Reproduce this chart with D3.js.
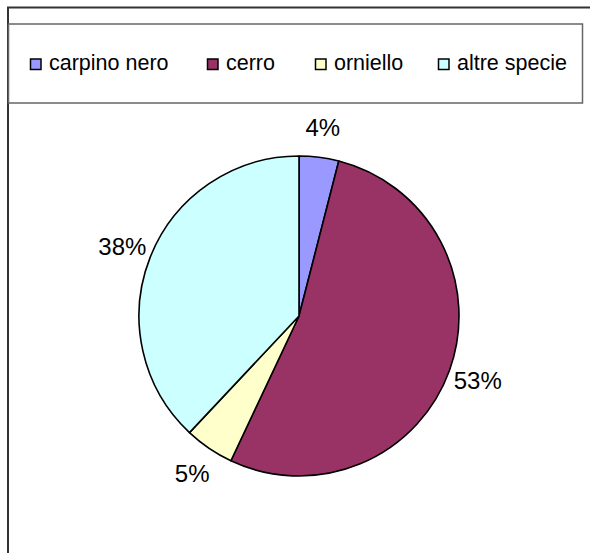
<!DOCTYPE html>
<html>
<head>
<meta charset="utf-8">
<script src="https://cdn.jsdelivr.net/npm/d3@7"></script>
<style>
  body { margin: 0; background: #fff; }
  svg { display: block; font-family: "Liberation Sans", Arial, sans-serif; }
</style>
</head>
<body>
<svg id="svg" width="590" height="553"></svg>
<script>
const species = ["carpino nero", "cerro", "orniello", "altre specie"];
const shares = [4, 53, 5, 38];
const colors = ["#9999ff", "#993366", "#ffffcc", "#ccffff"];

const data = species.map((s, i) => ({name: s, value: shares[i], color: colors[i]}));

const svg = d3.select("#svg");

// frame: only top and left edges show in the picture
svg.append("path")
    .attr("d", "M8,553 V7.5 H590")
    .attr("fill", "none")
    .attr("stroke", "#333")
    .attr("stroke-width", 2);

// legend box
const legend = svg.append("g");
legend.append("rect")
    .attr("x", 8.5)
    .attr("y", 24)
    .attr("width", 574)
    .attr("height", 79)
    .attr("fill", "#fff")
    .attr("stroke", "#666")
    .attr("stroke-width", 1.5);

const legendX = [30, 207, 315, 438];

const item = legend.selectAll("g.item")
    .data(data)
    .join("g")
    .attr("class", "item")
    .attr("transform", (d, i) => `translate(${legendX[i]}, 0)`);

item.append("rect")
    .attr("x", 0.5)
    .attr("y", 59)
    .attr("width", 10.5)
    .attr("height", 10.5)
    .attr("fill", d => d.color)
    .attr("stroke", "#000")
    .attr("stroke-width", 1.5);

item.append("text")
    .attr("x", 19)
    .attr("y", 70)
    .attr("font-size", 21.5)
    .attr("fill", "#000")
    .text(d => d.name);

// pie
const cx = 299, cy = 316, radius = 160;

const pie = d3.pie()
    .value(d => d.value)
    .sort(null);

const arc = d3.arc()
    .innerRadius(0)
    .outerRadius(radius);

const labelArc = d3.arc()
    .innerRadius(radius + 30)
    .outerRadius(radius + 30);

const g = svg.append("g")
    .attr("transform", `translate(${cx}, ${cy})`);

const arcs = pie(data);

g.selectAll("path")
    .data(arcs)
    .join("path")
    .attr("d", arc)
    .attr("fill", d => d.data.color)
    .attr("stroke", "#000")
    .attr("stroke-width", 1.6)
    .attr("stroke-linejoin", "round");

g.selectAll("text")
    .data(arcs)
    .join("text")
    .attr("transform", d => `translate(${labelArc.centroid(d)})`)
    .attr("text-anchor", "middle")
    .attr("dy", "0.36em")
    .attr("font-size", 24)
    .attr("fill", "#000")
    .text(d => `${d.data.value}%`);
</script>
</body>
</html>
